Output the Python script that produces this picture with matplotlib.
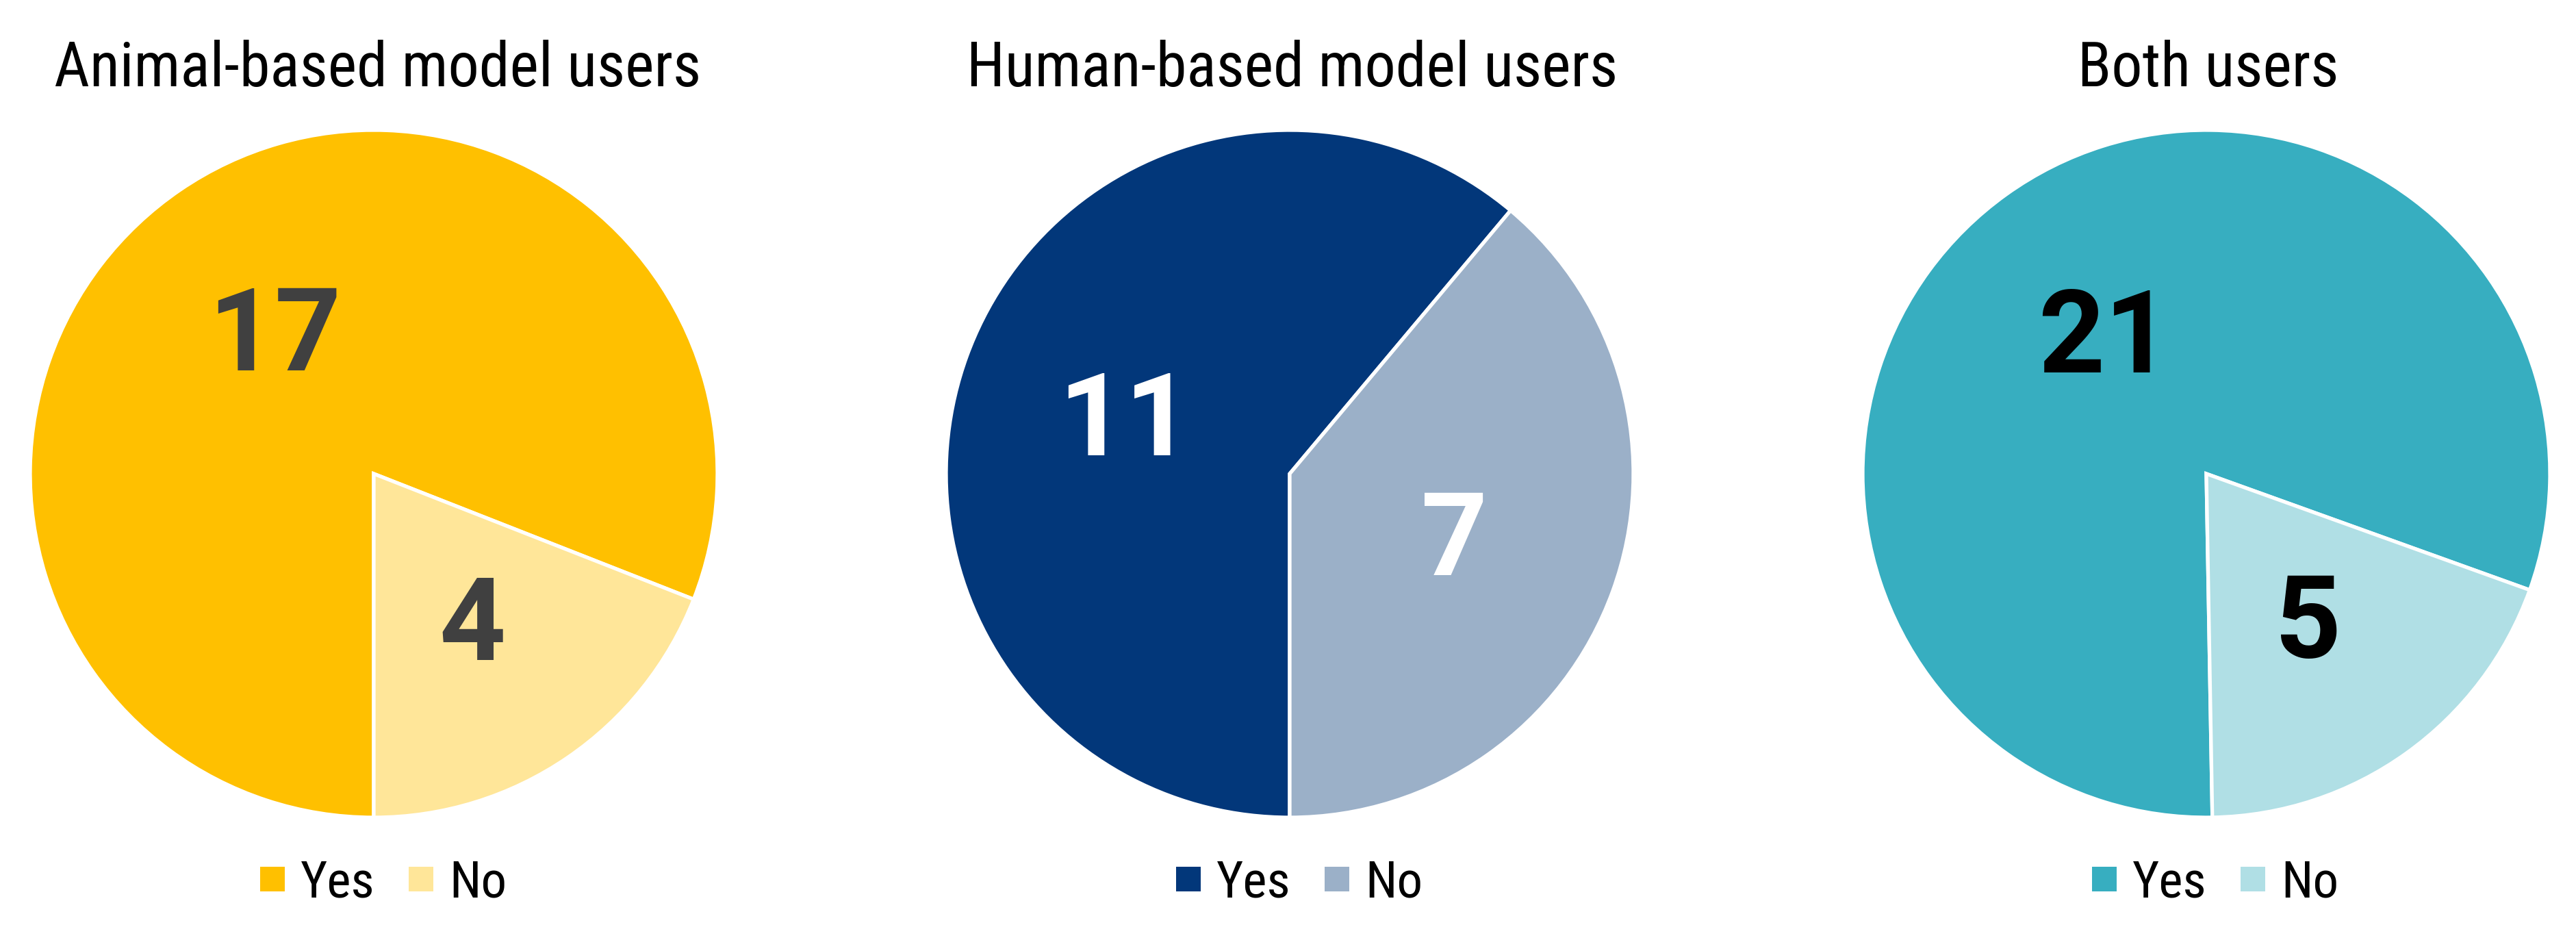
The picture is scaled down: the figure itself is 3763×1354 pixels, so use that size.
#!/usr/bin/env python3
"""Three pie charts: model users who answered yes / no."""

import matplotlib

matplotlib.use("Agg")
import matplotlib.pyplot as plt  # type: ignore
from matplotlib import font_manager  # type: ignore
from matplotlib.lines import Line2D  # type: ignore
from matplotlib.transforms import offset_copy  # type: ignore

TITLES = ["Animal-based model users", "Human-based model users", "Both users"]
ANSWERS = ["Yes", "No"]
YES_COUNTS = [17, 11, 21]
NO_COUNTS = [4, 7, 5]

COLOURS = [
    ("#FFC000", "#FFE699"),
    ("#02377A", "#9BB0C8"),
    ("#37AEC0", "#B0DFE5"),
]
LABEL_COLOURS = ["#404040", "white", "black"]
START_ANGLES = [-90, -90, -89]

W, H = 3763, 1354
DPI = 200
CENTRES_X = [546, 1884, 3223]
CENTRE_Y = 692
RADIUS = 502
TITLE_X = [552, 1888, 3226]
LEGEND_X = [560, 1898, 3236]


def pick_font():
    """Find a condensed sans font; fall back to Roboto, scaled down."""
    for fam in ["Roboto Condensed", "Liberation Sans Narrow", "Arial Narrow"]:
        try:
            font_manager.findfont(fam, fallback_to_default=False)
            return {"family": fam}, 1.0
        except ValueError:
            pass
    return {"family": "Roboto"}, 0.9


FONT, SCALE = pick_font()


def draw_pie(fig, idx):
    """Draw one pie with its title and legend."""
    cx = CENTRES_X[idx]
    ax = fig.add_axes(
        [
            (cx - RADIUS) / W,
            (H - CENTRE_Y - RADIUS) / H,
            2 * RADIUS / W,
            2 * RADIUS / H,
        ]
    )
    values = [YES_COUNTS[idx], NO_COUNTS[idx]]
    total = sum(values)
    _, _, autotexts = ax.pie(
        values,
        colors=COLOURS[idx],
        startangle=START_ANGLES[idx],
        counterclock=False,
        autopct=lambda pct: f"{round(pct * total / 100):d}",
        pctdistance=0.51,
        wedgeprops={"edgecolor": "white", "linewidth": 1.9},
    )
    size = 61
    for txt in autotexts:
        txt.set_color(LABEL_COLOURS[idx])
        txt.set_fontproperties(
            font_manager.FontProperties(family="Roboto", size=size,
                                        weight="bold")
        )
        # centre the digits themselves, not the line box
        txt.set_va("baseline")
        txt.set_transform(
            offset_copy(txt.get_transform(), fig=fig, y=-0.355 * size,
                        units="points")
        )
    ax.set_xlim(-1, 1)
    ax.set_ylim(-1, 1)

    fig.text(
        TITLE_X[idx] / W,
        1 - 126 / H,
        TITLES[idx],
        ha="center",
        va="baseline",
        fontproperties=font_manager.FontProperties(size=32.5 * SCALE, **FONT),
    )

    handles = [
        Line2D([], [], linestyle="none", marker="s", markersize=13,
               markerfacecolor=c, markeredgewidth=0)
        for c in COLOURS[idx]
    ]
    fig.legend(
        handles,
        ANSWERS,
        loc="center",
        bbox_to_anchor=(LEGEND_X[idx] / W, 1 - 1290 / H),
        ncol=2,
        frameon=False,
        handlelength=0.5,
        handletextpad=0.3,
        columnspacing=0.65,
        prop=font_manager.FontProperties(size=27 * SCALE, **FONT),
    )


def main():
    """Build and save the figure."""
    fig = plt.figure(figsize=(W / DPI, H / DPI), dpi=DPI)
    for idx in range(len(TITLES)):
        draw_pie(fig, idx)
    fig.savefig("out.png", dpi=DPI)


if __name__ == "__main__":
    main()
